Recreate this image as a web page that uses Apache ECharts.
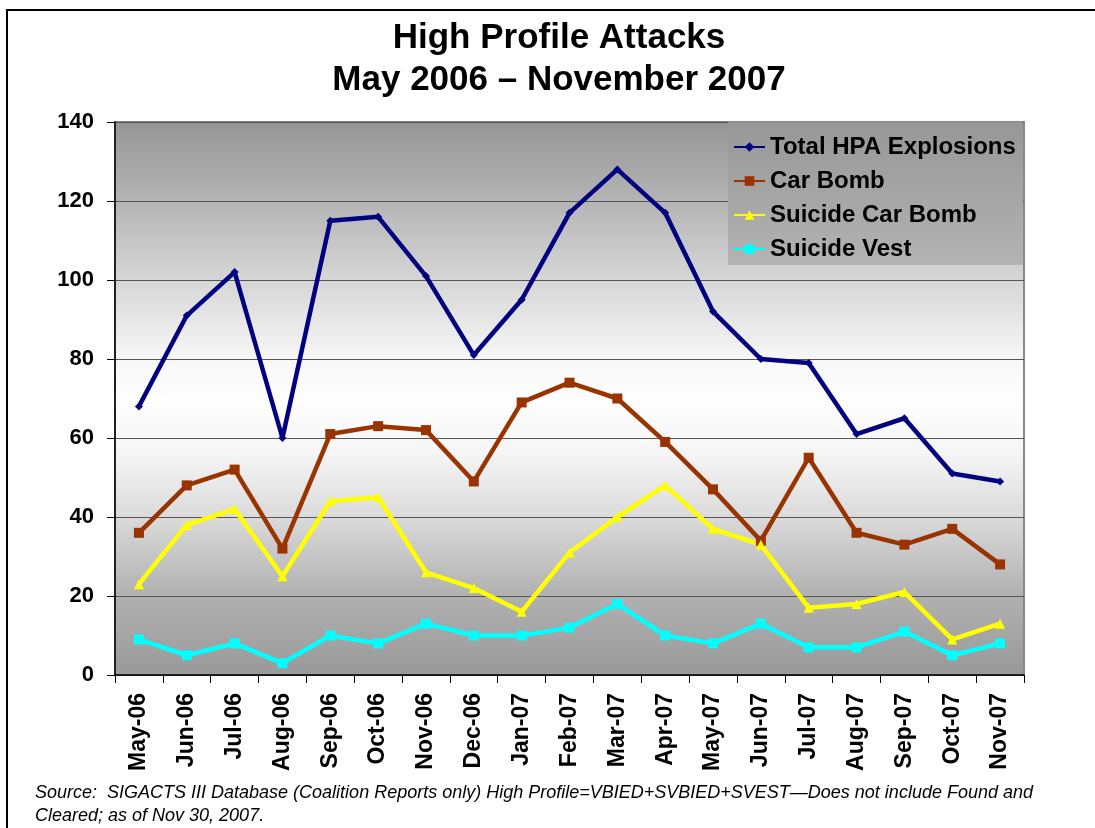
<!DOCTYPE html>
<html>
<head>
<meta charset="utf-8">
<title>High Profile Attacks</title>
<script src="https://cdn.jsdelivr.net/npm/echarts@6/dist/echarts.min.js"></script>
<style>
  html, body { margin: 0; padding: 0; background: #fff; }
  #chart { width: 1095px; height: 828px; }
</style>
</head>
<body>
<div id="chart"></div>
<script>
var months = ["May-06", "Jun-06", "Jul-06", "Aug-06", "Sep-06", "Oct-06", "Nov-06", "Dec-06", "Jan-07", "Feb-07",
  "Mar-07", "Apr-07", "May-07", "Jun-07", "Jul-07", "Aug-07", "Sep-07", "Oct-07", "Nov-07"];
var totalHpa = [68, 91, 102, 60, 115, 116, 101, 81, 95, 117, 128, 117, 92, 80, 79, 61, 65, 51, 49];
var carBomb = [36, 48, 52, 32, 61, 63, 62, 49, 69, 74, 70, 59, 47, 34, 55, 36, 33, 37, 28];
var suicideCarBomb = [23, 38, 42, 25, 44, 45, 26, 22, 16, 31, 40, 48, 37, 33, 17, 18, 21, 9, 13];
var suicideVest = [9, 5, 8, 3, 10, 8, 13, 10, 10, 12, 18, 10, 8, 13, 7, 7, 11, 5, 8];

var font = "'Liberation Sans', Arial, sans-serif";
var myChart = echarts.init(document.getElementById("chart"));

function line(name, data, color, symbol, size) {
  return {
    name: name,
    type: "line",
    data: data,
    symbol: symbol,
    symbolSize: size,
    lineStyle: { color: color, width: 4.5 },
    itemStyle: { color: color },
    animation: false
  };
}

myChart.setOption({
  backgroundColor: "#fff",
  title: {
    text: "High Profile Attacks\nMay 2006 \u2013 November 2007",
    left: 554,
    top: 12,
    textAlign: "center",
    textStyle: { fontFamily: font, fontSize: 35, fontWeight: "bold", lineHeight: 42, color: "#000" }
  },
  legend: {
    left: 728,
    top: 122,
    orient: "vertical",
    padding: [13, 7, 4, 5],
    itemGap: 10,
    itemWidth: 31,
    itemHeight: 12,
    backgroundColor: {
      type: "linear", x: 0, y: 0, x2: 0, y2: 1,
      colorStops: [{ offset: 0, color: "#979797" }, { offset: 1, color: "#b3b3b3" }]
    },
    textStyle: { fontFamily: font, fontSize: 24, fontWeight: "bold", color: "#000" },
    data: ["Total HPA Explosions", "Car Bomb", "Suicide Car Bomb", "Suicide Vest"]
  },
  grid: {
    left: 115,
    right: 71,
    top: 122,
    bottom: 153,
    show: true,
    borderColor: "#888",
    borderWidth: 2,
    backgroundColor: {
      type: "linear", x: 0, y: 0, x2: 0, y2: 1,
      colorStops: [
        { offset: 0, color: "#959595" },
        { offset: 0.143, color: "#b4b4b4" },
        { offset: 0.286, color: "#d6d6d6" },
        { offset: 0.43, color: "#f7f7f7" },
        { offset: 0.5, color: "#fefefe" },
        { offset: 0.6, color: "#f5f5f5" },
        { offset: 0.714, color: "#dadada" },
        { offset: 0.857, color: "#b0b0b0" },
        { offset: 1, color: "#999999" }
      ]
    }
  },
  xAxis: {
    type: "category",
    data: months,
    boundaryGap: true,
    axisLine: { lineStyle: { color: "#000", width: 1.5 } },
    axisTick: { show: true, length: 8, lineStyle: { color: "#000" } },
    axisLabel: { rotate: 90, margin: 18, color: "#000", fontFamily: font, fontSize: 23, fontWeight: "bold", interval: 0 },
    splitLine: { show: false }
  },
  yAxis: {
    type: "value",
    min: 0,
    max: 140,
    interval: 20,
    axisLine: { show: true, lineStyle: { color: "#000", width: 1.5 } },
    axisTick: { show: true, length: 8, lineStyle: { color: "#000" } },
    axisLabel: { margin: 21, color: "#000", fontFamily: font, fontSize: 22, fontWeight: "bold" },
    splitLine: { show: true, lineStyle: { color: "#555", width: 1.2 } }
  },
  series: [
    line("Total HPA Explosions", totalHpa, "#000080", "diamond", 8),
    line("Car Bomb", carBomb, "#993300", "rect", 10),
    line("Suicide Car Bomb", suicideCarBomb, "#ffff00", "triangle", 10),
    line("Suicide Vest", suicideVest, "#00ffff", "rect", 10)
  ],
  graphic: [
    {
      type: "rect",
      silent: true,
      shape: { x: 7, y: 10, width: 1200, height: 1000 },
      style: { fill: null, stroke: "#000", lineWidth: 2 }
    },
    {
      type: "text",
      left: 35,
      top: 781,
      style: {
        text: "Source:  SIGACTS III Database (Coalition Reports only) High Profile=VBIED+SVBIED+SVEST\u2014Does not include Found and\nCleared; as of Nov 30, 2007.",
        font: "italic 18px " + font,
        lineHeight: 23,
        fill: "#000"
      }
    }
  ]
});

window.addEventListener("resize", function () { myChart && myChart.resize(); });
</script>
</body>
</html>
